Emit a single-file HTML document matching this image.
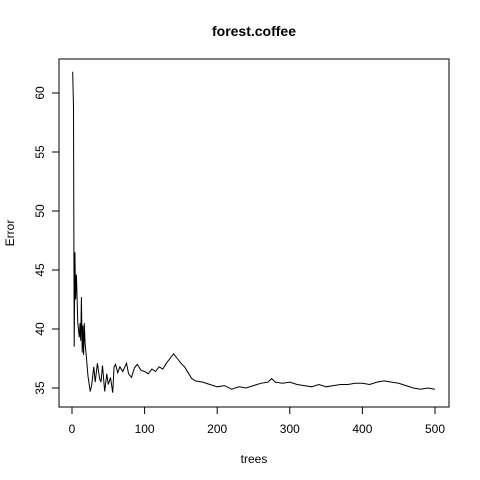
<!DOCTYPE html>
<html><head><meta charset="utf-8"><style>body{margin:0;background:#fff}svg{display:block;font-family:"Liberation Sans",sans-serif}</style></head>
<body>
<svg id="chart" width="480" height="480">
<rect width="480" height="480" fill="#fff"/>
<text x="254" y="36" text-anchor="middle" font-size="14" font-weight="bold">forest.coffee</text>
<rect x="59" y="59" width="390" height="348" fill="none" stroke="#000"/>
<text x="254" y="463" text-anchor="middle" font-size="12">trees</text>
<text transform="translate(14,233) rotate(-90)" text-anchor="middle" font-size="12">Error</text>
<g id="axes"></g>
<path id="line" fill="none" stroke="#000" stroke-width="1"/>
</svg>
<script>
const trees=[1,2,3,4,5,6,7,8,10,11,12,13,14,15,16,17,18,20,22,25,27,30,32,35,38,40,42,45,48,50,53,56,58,60,63,66,70,75,78,82,86,90,95,100,105,110,115,120,125,130,135,140,145,150,155,160,165,170,180,190,200,210,220,230,240,250,260,270,275,280,290,300,310,320,330,340,350,360,370,380,390,400,410,420,430,440,450,460,470,480,490,500];
const errors=[61.8,58.8,38.5,46.5,42.5,44.6,42.6,40.5,39.3,40.5,39.0,42.7,38.0,40.3,37.8,40.5,38.8,37.5,36.0,34.7,35.2,36.8,35.5,37.1,35.8,35.5,36.9,34.7,36.2,35.3,35.9,34.6,36.8,37.0,36.3,36.8,36.4,37.1,36.2,35.9,36.7,37.0,36.5,36.4,36.2,36.6,36.4,36.8,36.6,37.1,37.5,37.9,37.5,37.1,36.8,36.3,35.8,35.6,35.5,35.3,35.1,35.2,34.9,35.1,35.0,35.2,35.4,35.5,35.8,35.5,35.4,35.5,35.3,35.2,35.1,35.3,35.1,35.2,35.3,35.3,35.4,35.4,35.3,35.5,35.6,35.5,35.4,35.2,35.0,34.9,35.0,34.9];
const xTicks=[0,100,200,300,400,500];
const yTicks=[35,40,45,50,55,60];
const X=v=>72+v*(435-72)/500;
const Y=v=>388-(v-35)*11.8;
const NS="http://www.w3.org/2000/svg";
const g=document.getElementById('axes');
function mk(t,a){const e=document.createElementNS(NS,t);for(const k in a)e.setAttribute(k,a[k]);g.appendChild(e);return e;}
xTicks.forEach(t=>{
 const l=mk('line',{x1:X(t),x2:X(t),y1:407,y2:414,stroke:'#000'});
 
 
 const s=mk('text',{x:X(t),y:433,'text-anchor':'middle','font-size':12});
 s.textContent=t;
 
 
});
yTicks.forEach(t=>{
 const l=mk('line',{x1:52,x2:59,y1:Y(t),y2:Y(t),stroke:'#000'});
 
 
 const s=mk('text',{transform:`translate(44,${Y(t)}) rotate(-90)`,'text-anchor':'middle','font-size':12});
 s.textContent=t;
 
 
});
document.getElementById('line').setAttribute('d',trees.map((t,i)=>(i?'L':'M')+X(t).toFixed(1)+','+Y(errors[i]).toFixed(1)).join(''));
</script>
</body></html>
